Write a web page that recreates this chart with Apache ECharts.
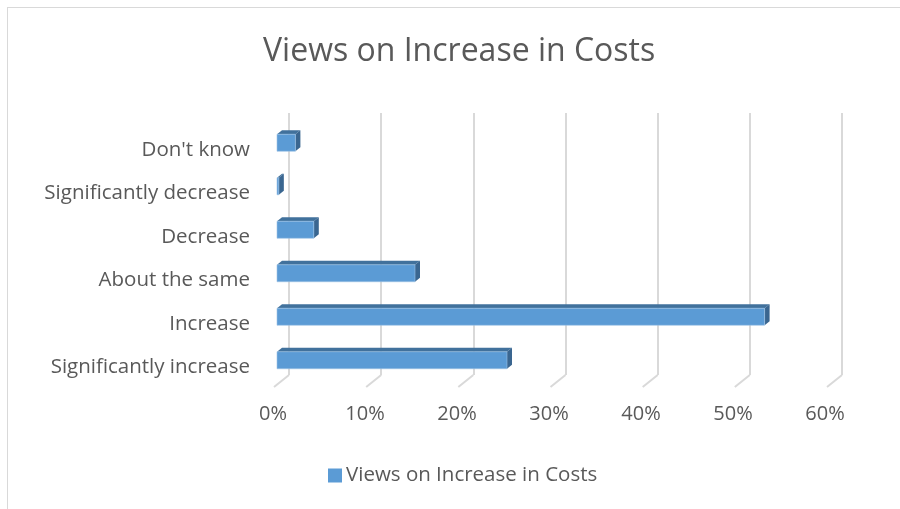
<!DOCTYPE html>
<html>
<head>
<meta charset="utf-8">
<script src="https://cdn.jsdelivr.net/npm/echarts@6/dist/echarts.min.js"></script>
<style>
html,body{margin:0;padding:0;background:#fff;}
#chart{width:900px;height:509px;position:absolute;left:0;top:0;}
#frame{position:absolute;left:7px;top:7px;width:900px;height:509px;border-left:1px solid #d9d9d9;border-top:1px solid #d9d9d9;pointer-events:none;}
</style>
</head>
<body>
<div id="chart"></div>
<div id="frame"></div>
<script>
var titleText = 'Views on Increase in Costs';
var seriesName = 'Views on Increase in Costs';
var categories = ['Significantly increase', 'Increase', 'About the same', 'Decrease', 'Significantly decrease', "Don't know"];
var values = [25, 53, 15, 4, 0.2, 2];
var tickValues = [0, 10, 20, 30, 40, 50, 60];

var FONT = 'Open Sans';
var TXT = '#595959';
var chart = echarts.init(document.getElementById('chart'), null, {renderer: 'canvas'});

var barData = values.map(function (v, i) { return [v, i]; });
var tickData = tickValues.map(function (t) { return [t, 0]; });

var option = {
  animation: false,
  backgroundColor: '#fff',
  title: {
    text: titleText,
    left: 258,
    top: 31,
    textStyle: {fontFamily: FONT, fontSize: 32, fontWeight: 'normal', color: TXT}
  },
  legend: {
    bottom: 18,
    left: 323,
    itemWidth: 14,
    itemHeight: 14,
    itemGap: 4,
    icon: 'rect',
    textStyle: {fontFamily: FONT, fontSize: 20.5, color: TXT, padding: [0, 0, 0, -1]},
    data: [{name: seriesName, icon: 'rect'}]
  },
  grid: [
    {left: 289, right: 58, top: 113, bottom: 134},
    {left: 277, right: 71, top: 121, bottom: 127}
  ],
  xAxis: [
    {
      type: 'value', gridIndex: 0, min: 0, max: 60, interval: 10,
      axisLine: {show: false}, axisTick: {show: false}, axisLabel: {show: false},
      splitLine: {show: true, lineStyle: {color: '#d9d9d9', width: 2}}
    },
    {
      type: 'value', gridIndex: 1, min: 0, max: 60, interval: 10,
      axisLine: {show: false}, axisTick: {show: false}, splitLine: {show: false},
      axisLabel: {
        show: true, margin: 22, color: TXT, fontFamily: FONT, fontSize: 20,
        formatter: '{value}%', padding: [0, 8, 0, 0]
      }
    }
  ],
  yAxis: [
    {type: 'value', gridIndex: 0, min: 0, max: 1, show: false},
    {
      type: 'category', gridIndex: 1, data: categories,
      axisLine: {show: false}, axisTick: {show: false}, splitLine: {show: false},
      axisLabel: {margin: 27, color: TXT, fontFamily: FONT, fontSize: 20.5,
                  verticalAlign: 'top', lineHeight: 14}
    }
  ],
  series: [
    {
      type: 'custom', name: 'floor', xAxisIndex: 0, yAxisIndex: 0, z: 1,
      silent: true, legendHoverLink: false,
      data: tickData,
      renderItem: function (params, api) {
        var p = api.coord([api.value(0), 0]);
        return {
          type: 'line',
          shape: {x1: p[0], y1: p[1], x2: p[0] - 15, y2: p[1] + 12},
          style: {stroke: '#d9d9d9', lineWidth: 2}
        };
      }
    },
    {
      type: 'custom', name: seriesName, xAxisIndex: 1, yAxisIndex: 1, z: 5,
      itemStyle: {color: '#5b9bd5'},
      data: barData,
      renderItem: function (params, api) {
        var v = api.value(0), c = api.value(1);
        var p0 = api.coord([0, c]);
        var p1 = api.coord([v, c]);
        var h = 17, dx = 5, dy = 4;
        var x0 = p0[0], x1 = p1[0];
        var yT = p0[1] - h / 2, yB = p0[1] + h / 2;
        return {
          type: 'group',
          children: [
            {type: 'polygon', shape: {points: [[x0, yT], [x1, yT], [x1 + dx, yT - dy], [x0 + dx, yT - dy]]},
             style: {fill: '#41719c'}},
            {type: 'polygon', shape: {points: [[x1, yT], [x1 + dx, yT - dy], [x1 + dx, yB - dy], [x1, yB]]},
             style: {fill: '#3a6690'}},
            {type: 'rect', shape: {x: x0, y: yT, width: Math.max(x1 - x0, 0), height: h},
             style: {fill: '#5b9bd5', stroke: '#9dc3e6', lineWidth: 0.6}}
          ]
        };
      }
    }
  ]
};
chart.setOption(option);
</script>
</body>
</html>
